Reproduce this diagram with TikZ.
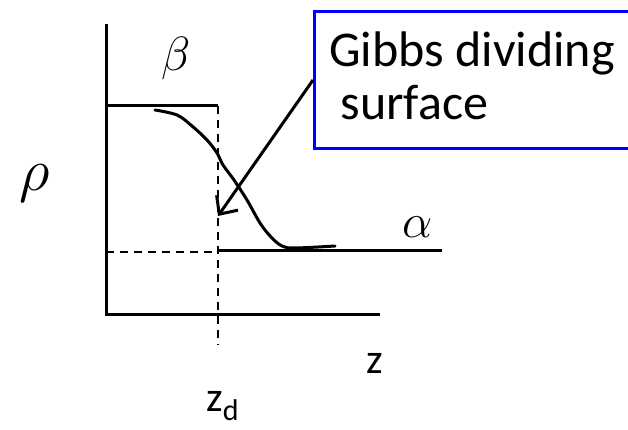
\documentclass[tikz,border=0pt]{standalone}
\usepackage{fix-cm}
\usepackage{fontspec}
\setmainfont{Carlito}
\usetikzlibrary{arrows.meta}
\begin{document}
\begin{tikzpicture}[x=1pt,y=-1pt,
  axis/.style={line width=3pt, line cap=rect},
  dashline/.style={line width=2pt, dash pattern=on 8pt off 6pt},
  lbl/.style={inner sep=0pt, anchor=base west},
  greek/.style={lbl, font=\fontsize{48}{56}\selectfont},
  boxtext/.style={lbl, font=\fontsize{50}{60}\selectfont},
  ztext/.style={lbl, font=\fontsize{42}{50}\selectfont},
  calloutbox/.style={draw=blue, line width=3pt, minimum width=360pt, minimum height=137pt, anchor=north west, inner sep=0pt},
  pointer/.style={line width=3pt, -{Straight Barb[length=14pt, width=26pt, line width=3pt]}}
]
\useasboundingbox (0,0) rectangle (628,430);
% coordinates
\coordinate (top) at (106,26);
\coordinate (origin) at (106,314);
\coordinate (xend) at (378,314);
\coordinate (betaL) at (106,106);
\coordinate (betaR) at (218,106);
\coordinate (dtop) at (218,106);
\coordinate (dbot) at (218,345);
\coordinate (hL) at (106,252);
\coordinate (hR) at (218,252);
\coordinate (alphaL) at (218,250);
\coordinate (alphaR) at (442,250);
\coordinate (tip) at (218,216);
% axes
\draw[axis] (top) -- (origin) -- (xend);
\draw[axis, line cap=butt] (betaL) -- (betaR);
\draw[axis, line cap=butt] (alphaL) -- (alphaR);
% dashed
\draw[dashline] (dtop) -- (dbot);
\draw[dashline] (hL) -- (hR);
% profile curve
\draw[line width=3pt, line cap=round] plot[smooth, tension=0.55] coordinates
  {(155,110) (177,115) (192,126) (207,140) (217,153) (223,165) (234,180) (247,200) (260,223) (271,237) (282,246) (295,248) (335,246)};
% labels
\node[greek] (beta) at (161,71) {$\beta$};
\node[greek] (alpha) at (402,237) {$\alpha$};
\node[lbl, font=\fontsize{60}{70}\selectfont] (rho) at (19,191) {$\rho$};
\node[ztext] (z) at (366,373) {z};
\node[ztext] (zd) at (206,411) {z\raisebox{-9pt}{\fontsize{30}{36}\selectfont d}};
% callout
\node[calloutbox] (box) at (313,10) {};
\node[boxtext] (t1) at (329,67) {Gibbs dividing};
\node[boxtext] (t2) at (329,120) {\ surface};
\draw[pointer] (box.west) -- (tip);
\end{tikzpicture}
\end{document}
